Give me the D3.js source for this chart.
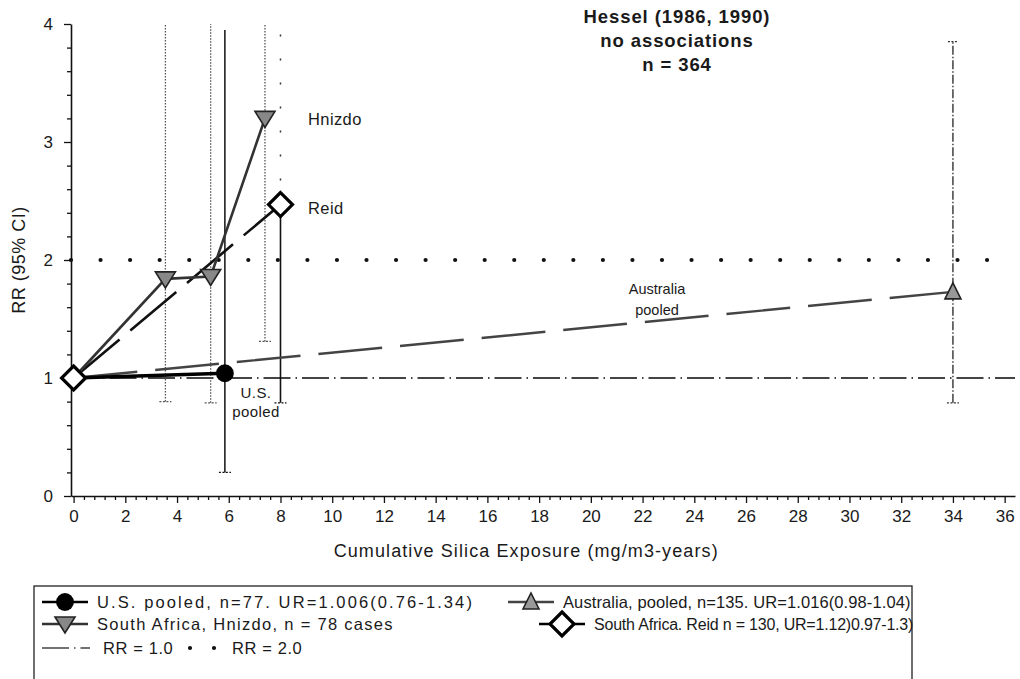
<!DOCTYPE html>
<html>
<head>
<meta charset="utf-8">
<script src="https://cdn.jsdelivr.net/npm/d3@7/dist/d3.min.js"></script>
<style>
  body { margin: 0; background: #fff; }
  svg text { font-family: "Liberation Sans", Arial, Helvetica, sans-serif; fill: #1a1a1a; }
</style>
</head>
<body>
<svg id="chart" width="1020" height="679"></svg>
<script>
// Axis tick values
const xTicks = [0, 2, 4, 6, 8, 10, 12, 14, 16, 18, 20, 22, 24, 26, 28, 30, 32, 34, 36];
const yTicks = [0, 1, 2, 3, 4];

// Relative risk by cumulative silica exposure (mg/m3-years)
const usX = [0, 5.85];
const usRR = [1, 1.04];
const hnizdoX = [0, 3.55, 5.3, 7.4];
const hnizdoRR = [1, 1.84, 1.86, 3.2];
const reidX = [0, 8];
const reidRR = [1, 2.47];
const ausX = [0, 34];
const ausRR = [1, 1.73];

// 95% confidence limits: [exposure, lower, upper]
const usCI = [[5.85, 0.2, 3.95]];
const hnizdoCI = [[3.55, 0.8, 4.6], [5.3, 0.79, 4.6], [7.4, 1.31, 4.6]];
const reidCI = [[8, 0.79, 4.6]];
const ausCI = [[34, 0.79, 3.85]];

// Reference risk levels
const refRR = [1, 2];

// Annotation text
const titleLines = ["Hessel (1986, 1990)", "no associations", "n = 364"];
const legendRows = [
  ["U.S. pooled, n=77. UR=1.006(0.76-1.34)", "Australia, pooled, n=135. UR=1.016(0.98-1.04)"],
  ["South Africa, Hnizdo, n = 78 cases", "South Africa. Reid  n = 130, UR=1.12)0.97-1.3)"]
];

const svg = d3.select("#chart");
const x = d3.scaleLinear().domain([-0.1, 36.4]).range([71, 1015]);
const y = d3.scaleLinear().domain([0, 4]).range([496, 24]);

svg.append("defs").append("clipPath").attr("id", "plotClip")
  .append("rect").attr("x", 60).attr("y", y(4)).attr("width", 960).attr("height", y(0) - y(4));

const pts = (xs, ys) => xs.map((v, i) => [v, ys[i]]);
const line = d3.line().x(d => x(d[0])).y(d => y(d[1]));

// ---- axes ----
const minorX = d3.range(0, 36.01, 0.4).filter(v => Math.abs(v / 2 - Math.round(v / 2)) > 1e-6);
const minorY = d3.range(0, 4.001, 0.2).filter(v => Math.abs(v - Math.round(v)) > 1e-6);

const xAxis = svg.append("g").attr("transform", `translate(0,${y(0)})`)
  .call(d3.axisBottom(x).tickValues(xTicks).tickSize(7).tickPadding(7).tickSizeOuter(0));
svg.append("g").attr("transform", `translate(0,${y(0)})`)
  .call(d3.axisBottom(x).tickValues(minorX).tickSize(4).tickFormat("").tickSizeOuter(0))
  .select(".domain").remove();

const yAxis = svg.append("g").attr("transform", `translate(${x(-0.1)},0)`)
  .call(d3.axisLeft(y).tickValues(yTicks).tickFormat(d3.format("d")).tickSize(7).tickPadding(11).tickSizeOuter(0));
svg.append("g").attr("transform", `translate(${x(-0.1)},0)`)
  .call(d3.axisLeft(y).tickValues(minorY).tickSize(4).tickFormat("").tickSizeOuter(0))
  .select(".domain").remove();

svg.selectAll(".domain").attr("stroke", "#111").attr("stroke-width", 1.6);
svg.selectAll(".tick line").attr("stroke", "#111").attr("stroke-width", 1.3);
xAxis.selectAll("text").attr("font-size", 17).attr("fill", "#222");
yAxis.selectAll("text").attr("font-size", 17).attr("fill", "#222");

svg.append("text").attr("x", x(17.5)).attr("y", 557).attr("text-anchor", "middle")
  .attr("font-size", 18).attr("letter-spacing", 1.1).text("Cumulative Silica Exposure (mg/m3-years)");
svg.append("text").attr("transform", `translate(25,${y(2)}) rotate(-90)`)
  .attr("text-anchor", "middle").attr("font-size", 18).attr("letter-spacing", 0.5).text("RR (95% CI)");

// ---- reference lines ----
const plot = svg.append("g");
plot.append("line").attr("x1", x(-0.1)).attr("x2", x(36.4)).attr("y1", y(refRR[0])).attr("y2", y(refRR[0]))
  .attr("stroke", "#444").attr("stroke-width", 1.8).attr("stroke-dasharray", "27,5,1.5,5");
plot.append("line").attr("x1", x(-0.1)).attr("x2", x(35.4)).attr("y1", y(refRR[1])).attr("y2", y(refRR[1]))
  .attr("stroke", "#111").attr("stroke-width", 4.2).attr("stroke-linecap", "round")
  .attr("stroke-dasharray", "0,29.55");

// ---- confidence interval bars ----
const ci = plot.append("g").attr("clip-path", "url(#plotClip)");
function ciBars(data, opts) {
  data.forEach(([cx, lo, hi]) => {
    const xp = x(cx);
    ci.append("line").attr("x1", xp).attr("x2", xp).attr("y1", y(lo)).attr("y2", y(hi))
      .attr("stroke", opts.color).attr("stroke-width", opts.width)
      .attr("stroke-dasharray", opts.dash || null);
    ci.append("line").attr("x1", xp - 6).attr("x2", xp + 6).attr("y1", y(lo)).attr("y2", y(lo))
      .attr("stroke", opts.color).attr("stroke-width", 1.2).attr("stroke-dasharray", "2,1.5");
    if (opts.topCap) {
      ci.append("line").attr("x1", xp - 5).attr("x2", xp + 5).attr("y1", y(hi)).attr("y2", y(hi))
        .attr("stroke", opts.color).attr("stroke-width", 1.2).attr("stroke-dasharray", "2,1.5");
    }
  });
}
ciBars(hnizdoCI, { color: "#555", width: 1.3, dash: "1.5,1.5" });
ciBars(ausCI, { color: "#333", width: 1.4, dash: "9,2,1.5,2", topCap: true });
ciBars(usCI, { color: "#111", width: 1.5 });
// Reid: solid below the estimate, sparse dots above
reidCI.forEach(([cx, lo, hi]) => {
  const rr = reidRR[reidX.indexOf(cx)];
  ci.append("line").attr("x1", x(cx)).attr("x2", x(cx)).attr("y1", y(lo)).attr("y2", y(rr))
    .attr("stroke", "#111").attr("stroke-width", 1.6);
  ci.append("line").attr("x1", x(cx)).attr("x2", x(cx)).attr("y1", y(rr)).attr("y2", y(hi))
    .attr("stroke", "#333").attr("stroke-width", 1.5).attr("stroke-dasharray", "2,22");
  ci.append("line").attr("x1", x(cx) - 6).attr("x2", x(cx) + 6).attr("y1", y(lo)).attr("y2", y(lo))
    .attr("stroke", "#111").attr("stroke-width", 1.2).attr("stroke-dasharray", "2,1.5");
});

// ---- series lines ----
plot.append("path").datum(pts(ausX, ausRR)).attr("d", line).attr("fill", "none")
  .attr("stroke", "#444").attr("stroke-width", 2.4).attr("stroke-dasharray", "64,18");
plot.append("path").datum(pts(reidX, reidRR)).attr("d", line).attr("fill", "none")
  .attr("stroke", "#111").attr("stroke-width", 2.6).attr("stroke-dasharray", "60,14");
plot.append("path").datum(pts(hnizdoX, hnizdoRR)).attr("d", line).attr("fill", "none")
  .attr("stroke", "#333").attr("stroke-width", 2.6);
plot.append("path").datum(pts(usX, usRR)).attr("d", line).attr("fill", "none")
  .attr("stroke", "#000").attr("stroke-width", 3.6);

// ---- markers ----
const sym = {
  circle: d3.symbol().type(d3.symbolCircle).size(250),
  down: "M-10,-7L10,-7L0,9Z",
  up: "M0,-9L8,7L-8,7Z",
  diamond: "M0,-12L12,0L0,12L-12,0Z"
};
function marker(g, kind, cx, cy) {
  const t = `translate(${cx},${cy})`;
  if (kind === "circle") g.append("path").attr("d", sym.circle()).attr("transform", t).attr("fill", "#000");
  if (kind === "down") g.append("path").attr("d", sym.down).attr("transform", t)
    .attr("fill", "#888").attr("stroke", "#222").attr("stroke-width", 1.6);
  if (kind === "up") g.append("path").attr("d", sym.up).attr("transform", t)
    .attr("fill", "#999").attr("stroke", "#222").attr("stroke-width", 1.6);
  if (kind === "diamond") g.append("path").attr("d", sym.diamond).attr("transform", t)
    .attr("fill", "#fff").attr("stroke", "#000").attr("stroke-width", 3.2);
}
const mk = plot.append("g");
hnizdoX.slice(1).forEach((v, i) => marker(mk, "down", x(v), y(hnizdoRR[i + 1])));
ausX.slice(1).forEach((v, i) => marker(mk, "up", x(v), y(ausRR[i + 1])));
usX.slice(1).forEach((v, i) => marker(mk, "circle", x(v), y(usRR[i + 1])));
reidX.forEach((v, i) => marker(mk, "diamond", x(v), y(reidRR[i])));

// ---- series labels ----
const lab = svg.append("g").attr("font-size", 16.5).attr("letter-spacing", 0.4);
lab.append("text").attr("x", 308).attr("y", y(hnizdoRR[3]) + 7).text("Hnizdo").attr("fill", "#333");
lab.append("text").attr("x", 308).attr("y", y(reidRR[1]) + 9).text("Reid").attr("fill", "#333");
lab.append("text").attr("x", 256).attr("y", 398).attr("text-anchor", "middle").attr("font-size", 15).text("U.S.");
lab.append("text").attr("x", 256).attr("y", 417).attr("text-anchor", "middle").attr("font-size", 15).text("pooled");
lab.append("text").attr("x", 657).attr("y", 294).attr("text-anchor", "middle").attr("font-size", 14.5)
  .attr("letter-spacing", 0).attr("fill", "#555").text("Australia");
lab.append("text").attr("x", 657).attr("y", 315).attr("text-anchor", "middle").attr("font-size", 14.5)
  .attr("letter-spacing", 0).attr("fill", "#555").text("pooled");

// ---- title block ----
svg.append("g").selectAll("text").data(titleLines).join("text")
  .attr("x", 677).attr("y", (d, i) => 23 + i * 24).attr("text-anchor", "middle")
  .attr("font-size", 18.5).attr("font-weight", "bold").attr("letter-spacing", 0.9).text(d => d);

// ---- legend ----
const lg = svg.append("g");
lg.append("rect").attr("x", 34).attr("y", 586).attr("width", 878).attr("height", 120)
  .attr("fill", "none").attr("stroke", "#222").attr("stroke-width", 1.3);
const rowY = [602, 624, 648];
const symX = [[65, 531], [65, 562]];
const textX = [[97, 563], [97, 594]];
const textSpacing = [[2.1, 0.1], [1.3, -0.2]];
const legendKinds = [["circle", "up"], ["down", "diamond"]];
const legendStroke = [["#000", "#444"], ["#333", "#000"]];
legendRows.forEach((row, r) => row.forEach((txt, c) => {
  const cx = symX[r][c], cy = rowY[r];
  lg.append("line").attr("x1", cx - 23).attr("x2", cx + 23).attr("y1", cy).attr("y2", cy)
    .attr("stroke", legendStroke[r][c]).attr("stroke-width", 2.6);
  marker(lg, legendKinds[r][c], cx, cy);
  lg.append("text").attr("x", textX[r][c]).attr("y", cy + 6).attr("font-size", c === 1 && r === 1 ? 16 : 16.5)
    .attr("letter-spacing", textSpacing[r][c]).text(txt);
}));
lg.append("line").attr("x1", 42).attr("x2", 90).attr("y1", rowY[2]).attr("y2", rowY[2])
  .attr("stroke", "#444").attr("stroke-width", 1.4).attr("stroke-dasharray", "27,5,1.5,5");
lg.append("text").attr("x", 103).attr("y", rowY[2] + 6).attr("font-size", 16.5).attr("letter-spacing", 0.6).text("RR = 1.0");
lg.append("line").attr("x1", 190).attr("x2", 216).attr("y1", rowY[2]).attr("y2", rowY[2])
  .attr("stroke", "#111").attr("stroke-width", 4.2).attr("stroke-linecap", "round")
  .attr("stroke-dasharray", "0,24");
lg.append("text").attr("x", 232).attr("y", rowY[2] + 6).attr("font-size", 16.5).attr("letter-spacing", 0.6).text("RR = 2.0");
</script>
</body>
</html>
